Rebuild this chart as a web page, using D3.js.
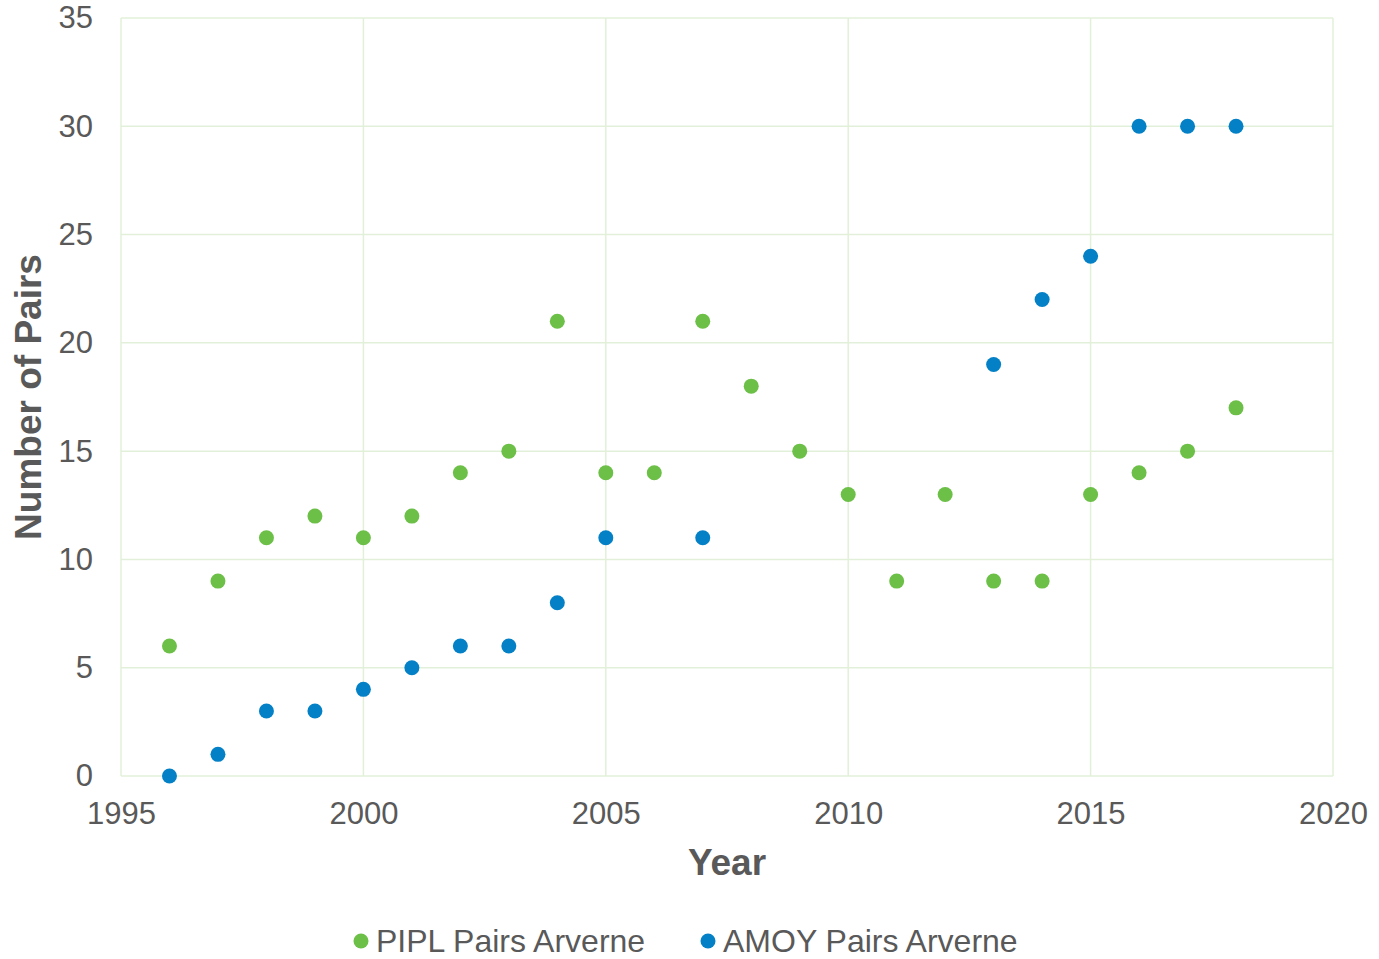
<!DOCTYPE html>
<html>
<head>
<meta charset="utf-8">
<script src="https://cdn.jsdelivr.net/npm/d3@7"></script>
<style>
  body { margin: 0; background: #fff; }
  text { font-family: "Liberation Sans", Arial, sans-serif; fill: #595959; }
</style>
</head>
<body>
<div id="chart"></div>
<script>
// data
var piplYears = [1996, 1997, 1998, 1999, 2000, 2001, 2002, 2003, 2004, 2005, 2006, 2007,
                 2008, 2009, 2010, 2011, 2012, 2013, 2014, 2015, 2016, 2017, 2018];
var piplPairs = [6, 9, 11, 12, 11, 12, 14, 15, 21, 14, 14, 21,
                 18, 15, 13, 9, 13, 9, 9, 13, 14, 15, 17];
var amoyYears = [1996, 1997, 1998, 1999, 2000, 2001, 2002, 2003, 2004, 2005, 2007,
                 2013, 2014, 2015, 2016, 2017, 2018];
var amoyPairs = [0, 1, 3, 3, 4, 5, 6, 6, 8, 11, 11,
                 19, 22, 24, 30, 30, 30];
var xTicks = [1995, 2000, 2005, 2010, 2015, 2020];
var yTicks = [0, 5, 10, 15, 20, 25, 30, 35];
var seriesNames = ["PIPL Pairs Arverne", "AMOY Pairs Arverne"];
var colors = ["#6cbf47", "#0480c6"];

var W = 1379, H = 959;
var margin = { top: 18, right: 46, bottom: 183, left: 121 },
    width = W - margin.left - margin.right,
    height = H - margin.top - margin.bottom;

var svg = d3.select("#chart").append("svg")
    .attr("width", W).attr("height", H);
var g = svg.append("g")
    .attr("transform", "translate(" + margin.left + "," + margin.top + ")");

var x = d3.scaleLinear().domain([1995, 2020]).range([0, width]);
var y = d3.scaleLinear().domain([0, 35]).range([height, 0]);

// gridlines
g.selectAll(".hgrid").data(yTicks).enter().append("line")
    .attr("x1", 0).attr("x2", width)
    .attr("y1", function (d) { return y(d); }).attr("y2", function (d) { return y(d); })
    .attr("stroke", "#e2f0d9").attr("stroke-width", 1.5);
g.selectAll(".vgrid").data(xTicks).enter().append("line")
    .attr("x1", function (d) { return x(d); }).attr("x2", function (d) { return x(d); })
    .attr("y1", 0).attr("y2", height)
    .attr("stroke", "#e2f0d9").attr("stroke-width", 1.5);

// axes (labels only)
var yAxis = g.append("g")
    .call(d3.axisLeft(y).tickValues(yTicks).tickSize(0).tickPadding(28));
var xAxis = g.append("g")
    .attr("transform", "translate(0," + height + ")")
    .call(d3.axisBottom(x).tickValues(xTicks).tickSize(0).tickPadding(26).tickFormat(d3.format("d")));
[yAxis, xAxis].forEach(function (a) {
    a.select(".domain").remove();
    a.selectAll("text").attr("font-size", 31).attr("fill", "#595959")
        .style("font-family", "'Liberation Sans', Arial, sans-serif");
});

// axis titles
svg.append("text")
    .attr("x", margin.left + width / 2).attr("y", 875)
    .attr("text-anchor", "middle")
    .attr("font-size", 37).attr("font-weight", "bold")
    .text("Year");
svg.append("text")
    .attr("transform", "translate(41," + (margin.top + height / 2) + ") rotate(-90)")
    .attr("text-anchor", "middle")
    .attr("font-size", 37).attr("font-weight", "bold")
    .text("Number of Pairs");

// dots
function drawDots(years, vals, color) {
    g.selectAll(null)
        .data(years.map(function (yr, i) { return { year: yr, v: vals[i] }; }))
        .enter().append("circle")
        .attr("cx", function (d) { return x(d.year); })
        .attr("cy", function (d) { return y(d.v); })
        .attr("r", 7.5)
        .attr("fill", color);
}
drawDots(piplYears, piplPairs, colors[0]);
drawDots(amoyYears, amoyPairs, colors[1]);

// legend
var legendX = [361, 708];
seriesNames.forEach(function (name, i) {
    var lg = svg.append("g").attr("transform", "translate(" + legendX[i] + ",941)");
    lg.append("circle").attr("r", 7.5).attr("fill", colors[i]);
    lg.append("text").attr("x", 15).attr("y", 11)
        .attr("font-size", 32).text(name);
});
</script>
</body>
</html>
